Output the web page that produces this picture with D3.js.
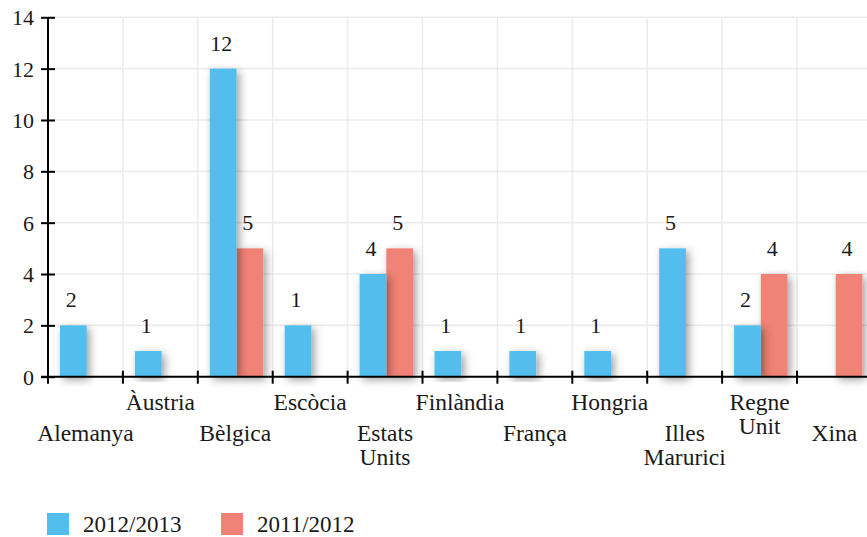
<!DOCTYPE html>
<html>
<head>
<meta charset="utf-8">
<script src="https://cdn.jsdelivr.net/npm/d3@7"></script>
<style>
  body { margin: 0; background: #fff; }
</style>
</head>
<body>
<svg id="chart" width="867" height="537" font-family="'Liberation Serif', 'Times New Roman', serif"></svg>
<script>
// DATA
var categories = ["Alemanya", "Àustria", "Bèlgica", "Escòcia", "Estats Units", "Finlàndia",
                  "França", "Hongria", "Illes Marurici", "Regne Unit", "Xina"];
var categoryLines = [["Alemanya"], ["Àustria"], ["Bèlgica"], ["Escòcia"], ["Estats", "Units"], ["Finlàndia"],
                     ["França"], ["Hongria"], ["Illes", "Marurici"], ["Regne", "Unit"], ["Xina"]];
var seriesNames = ["2012/2013", "2011/2012"];
var values2012 = [2, 1, 12, 2, 4, 1, 1, 1, 5, 2, 0];
var values2011 = [0, 0, 5, 0, 5, 0, 0, 0, 0, 4, 4];
// printed labels (the Escòcia label reads 1 over a bar of 2 in the original)
var labels2012 = ["2", "1", "12", "1", "4", "1", "1", "1", "5", "2", ""];
var labels2011 = ["", "", "5", "", "5", "", "", "", "", "4", "4"];
var yTicks = [0, 2, 4, 6, 8, 10, 12, 14];
var colors = ["#52beee", "#f08276"];

// LAYOUT
var MARGIN_LEFT = 48;
var CAT_WIDTH = 74.9;
var Y_TOP = 17.3, Y_BOTTOM = 376.7;
var SVG_WIDTH = 867;
var FONT = "'Liberation Serif', 'Times New Roman', serif";
var FONT_SIZE = 22;
var TEXT_COLOR = "#1a1a1a";

var svg = d3.select("#chart");

var x0 = d3.scaleBand()
    .domain(categories)
    .range([MARGIN_LEFT, MARGIN_LEFT + CAT_WIDTH * categories.length])
    .padding(0);

var x1 = d3.scaleBand()
    .domain(seriesNames)
    .range([12, 12 + 53.4])
    .padding(0);

var y = d3.scaleLinear().domain([0, 14]).range([Y_BOTTOM, Y_TOP]);

// shadow for bars
var defs = svg.append("defs");
var filter = defs.append("filter").attr("id", "shadow")
    .attr("x", "-50%").attr("y", "-20%").attr("width", "200%").attr("height", "140%");
filter.append("feDropShadow")
    .attr("dx", 3).attr("dy", 3).attr("stdDeviation", 4)
    .attr("flood-color", "#000").attr("flood-opacity", 0.38);

// GRID
svg.append("g").selectAll("line.hgrid")
    .data(yTicks.slice(1))
    .enter().append("line")
    .attr("x1", MARGIN_LEFT).attr("x2", SVG_WIDTH)
    .attr("y1", function(d){ return y(d); })
    .attr("y2", function(d){ return y(d); })
    .attr("stroke", "#ececec").attr("stroke-width", 1.6);

svg.append("g").selectAll("line.vgrid")
    .data(categories.slice(1))
    .enter().append("line")
    .attr("x1", function(d){ return x0(d); })
    .attr("x2", function(d){ return x0(d); })
    .attr("y1", y(14)).attr("y2", Y_BOTTOM)
    .attr("stroke", "#ececec").attr("stroke-width", 1.6);

// BARS (older series first so the newer bar's shadow falls over it)
var series = [
    { name: seriesNames[0], values: values2012, labels: labels2012, color: colors[0] },
    { name: seriesNames[1], values: values2011, labels: labels2011, color: colors[1] }
];

series.slice().reverse().forEach(function(s){
    svg.append("g").selectAll("rect")
        .data(categories)
        .enter().append("rect")
        .filter(function(d, i){ return s.values[i] > 0; })
        .attr("x", function(d){ return x0(d) + x1(s.name); })
        .attr("y", function(d){ return y(s.values[categories.indexOf(d)]); })
        .attr("width", x1.bandwidth())
        .attr("height", function(d){ return Y_BOTTOM - y(s.values[categories.indexOf(d)]); })
        .attr("fill", s.color)
        .attr("filter", "url(#shadow)");
});

// value labels
series.forEach(function(s){
    svg.append("g").selectAll("text")
        .data(categories)
        .enter().append("text")
        .filter(function(d, i){ return s.labels[i] !== ""; })
        .attr("x", function(d){ return x0(d) + x1(s.name) + x1.bandwidth() / 2 - 2; })
        .attr("y", function(d){ return y(s.values[categories.indexOf(d)]) - 18; })
        .attr("text-anchor", "middle")
        .attr("font-family", FONT)
        .attr("font-size", FONT_SIZE)
        .attr("fill", TEXT_COLOR)
        .text(function(d){ return s.labels[categories.indexOf(d)]; });
});

// AXES
var yAxis = d3.axisLeft(y).tickValues(yTicks).tickSize(0).tickFormat(d3.format("d"));
var yG = svg.append("g").attr("transform", "translate(" + MARGIN_LEFT + ",0)").call(yAxis);
yG.attr("font-family", FONT).attr("font-size", FONT_SIZE);
yG.select(".domain").remove();
yG.selectAll("text")
    .attr("x", -14).attr("dy", "0.34em")
    .attr("fill", TEXT_COLOR);
yG.selectAll(".tick").append("line")
    .attr("x1", -7).attr("x2", 7)
    .attr("stroke", "#000").attr("stroke-width", 2);
svg.append("line")
    .attr("x1", MARGIN_LEFT).attr("x2", MARGIN_LEFT)
    .attr("y1", Y_TOP).attr("y2", Y_BOTTOM + 7)
    .attr("stroke", "#000").attr("stroke-width", 2);

// x axis
svg.append("line")
    .attr("x1", MARGIN_LEFT - 7).attr("x2", SVG_WIDTH)
    .attr("y1", Y_BOTTOM).attr("y2", Y_BOTTOM)
    .attr("stroke", "#000").attr("stroke-width", 2);
svg.append("g").selectAll("line")
    .data(categories.slice(1))
    .enter().append("line")
    .attr("x1", function(d){ return x0(d); })
    .attr("x2", function(d){ return x0(d); })
    .attr("y1", Y_BOTTOM - 6).attr("y2", Y_BOTTOM + 7)
    .attr("stroke", "#000").attr("stroke-width", 2);

// category labels, alternating rows
var catLabels = svg.append("g").selectAll("text")
    .data(categories)
    .enter().append("text")
    .attr("text-anchor", "middle")
    .attr("font-family", FONT)
    .attr("font-size", 23.5)
    .attr("fill", TEXT_COLOR)
    .attr("transform", function(d, i){
        var cx = x0(d) + x0.bandwidth() / 2;
        var by = (i % 2 == 1) ? 410 : 441;
        return "translate(" + cx + "," + by + ")";
    });
catLabels.selectAll("tspan")
    .data(function(d, i){ return categoryLines[i]; })
    .enter().append("tspan")
    .attr("x", 0)
    .attr("y", function(d, j){ return j * 24; })
    .text(function(d){ return d; });

// LEGEND
var legend = svg.append("g").selectAll("g")
    .data(series)
    .enter().append("g")
    .attr("transform", function(d, i){ return "translate(" + (47 + i * 174) + ",513)"; });
legend.append("rect")
    .attr("width", 22).attr("height", 22)
    .attr("fill", function(d){ return d.color; });
legend.append("text")
    .attr("x", 36).attr("y", 19)
    .attr("font-family", FONT)
    .attr("font-size", 23)
    .attr("fill", TEXT_COLOR)
    .text(function(d){ return d.name; });
</script>
</body>
</html>
